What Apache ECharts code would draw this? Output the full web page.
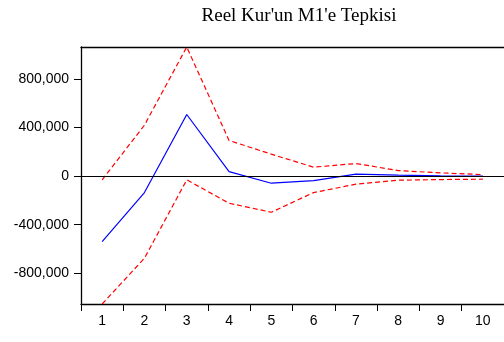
<!DOCTYPE html>
<html>
<head>
<meta charset="utf-8">
<script src="https://cdn.jsdelivr.net/npm/echarts@6/dist/echarts.min.js"></script>
<style>
  html, body { margin: 0; padding: 0; background: #fff; }
  #chart { width: 504px; height: 342px; }
</style>
</head>
<body>
<div id="chart"></div>
<script>
// Impulse response of the real exchange rate to an M1 shock, with ±2 S.E. bands
const periods = ['1', '2', '3', '4', '5', '6', '7', '8', '9', '10'];
const response = [-540000, -135000, 508000, 38000, -58000, -36000, 17000, 8000, 3000, 1000];
const upperBand = [-30000, 420000, 1064000, 294000, 181000, 74000, 104000, 46000, 27000, 13000];
const lowerBand = [-1053000, -676000, -30000, -223000, -297000, -135000, -66000, -33000, -28000, -25000];
const yTicks = [-800000, -400000, 0, 400000, 800000];
const titleText = "Reel Kur'un M1'e Tepkisi";

const chart = echarts.init(document.getElementById('chart'), null, { renderer: 'canvas' });

const fmt = v => v.toLocaleString('en-US');
const frameLine = { show: true, onZero: false, lineStyle: { color: '#000', width: 1.3 } };

chart.setOption({
  animation: false,
  backgroundColor: '#fff',
  title: {
    text: titleText,
    left: 294,
    textAlign: 'center',
    top: 2,
    textStyle: { fontFamily: 'Liberation Serif', fontSize: 19, fontWeight: 'normal', color: '#000' }
  },
  grid: { left: 81, right: -1, top: 47, bottom: 38, show: false },
  xAxis: [
    {
      type: 'category',
      data: periods,
      boundaryGap: true,
      position: 'bottom',
      axisLine: frameLine,
      axisTick: { show: true, inside: false, length: 7, lineStyle: { color: '#000' } },
      axisLabel: { margin: 10, fontFamily: 'Liberation Sans', fontSize: 14, color: '#000' },
      splitLine: { show: false }
    },
    {
      // top edge of the plot frame
      type: 'category',
      data: periods,
      position: 'top',
      axisLine: frameLine,
      axisTick: { show: false },
      axisLabel: { show: false },
      splitLine: { show: false }
    }
  ],
  yAxis: {
    type: 'value',
    min: 'dataMin',
    max: 'dataMax',
    axisLine: frameLine,
    axisTick: { show: true, inside: false, length: 7, lineStyle: { color: '#000' }, customValues: yTicks },
    axisLabel: { margin: 12, fontFamily: 'Liberation Sans', fontSize: 14, color: '#000', customValues: yTicks, formatter: fmt },
    splitLine: { show: false }
  },
  series: [
    {
      type: 'line',
      data: response,
      symbol: 'none',
      lineStyle: { color: '#0000ff', width: 1.2 },
      z: 3,
      markLine: {
        silent: true,
        symbol: 'none',
        label: { show: false },
        lineStyle: { color: '#000', type: 'solid', width: 1 },
        data: [{ yAxis: 0 }]
      }
    },
    {
      type: 'line',
      data: upperBand,
      symbol: 'none',
      lineStyle: { color: '#ff0000', width: 1.2, type: [5, 3] }
    },
    {
      type: 'line',
      data: lowerBand,
      symbol: 'none',
      lineStyle: { color: '#ff0000', width: 1.2, type: [5, 3] }
    }
  ]
});
</script>
</body>
</html>
